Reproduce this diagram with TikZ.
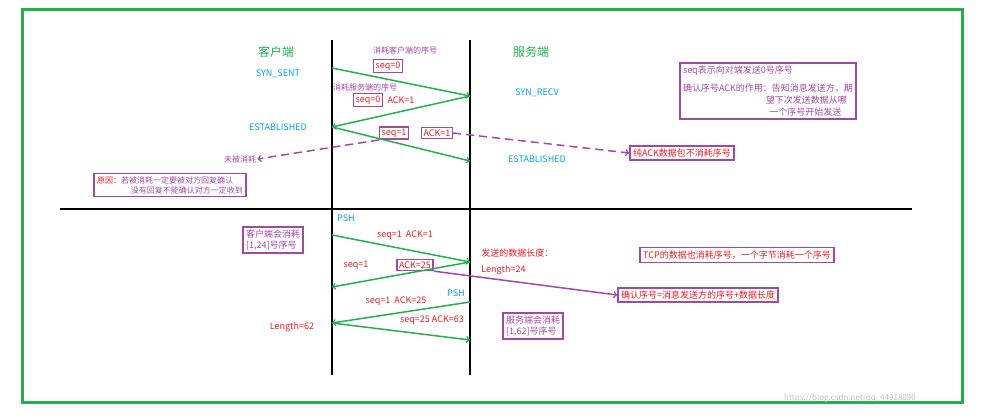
\documentclass[tikz,border=0pt]{standalone}
\usepackage{fontspec}
\setmainfont{Noto Sans CJK SC}
\usetikzlibrary{positioning}
\definecolor{tgreen}{RGB}{34,177,76}
\definecolor{tpurple}{RGB}{163,73,164}
\definecolor{tblue}{RGB}{0,162,232}
\definecolor{tred}{RGB}{237,28,36}
\tikzset{every picture/.style={line width=0.75pt}}
\tikzset{
  msg/.style={draw=tgreen,line width=1.5pt,->},
  note/.style={draw=tpurple,line width=1.5pt,->},
  tagbox/.style={draw=tpurple,line width=1.5pt,inner sep=2pt,text=tred,font=\fontsize{9}{10}\selectfont},
  redtxt/.style={text=tred,font=\fontsize{9}{10}\selectfont,inner sep=1pt},
  bluetxt/.style={text=tblue,font=\fontsize{9}{10}\selectfont,inner sep=1pt},
  purtxt/.style={text=tpurple,font=\fontsize{8}{9}\selectfont,inner sep=1pt},
  headtxt/.style={text=tgreen,font=\fontsize{12}{13}\selectfont},
  purbox/.style={draw=tpurple,line width=1.5pt,text=tpurple,align=left,font=\fontsize{9}{12}\selectfont,inner sep=3pt}
}
\begin{document}
\begin{tikzpicture}[x=1pt,y=1pt,yscale=-1,xscale=1]
\useasboundingbox (0,0) rectangle (983,420);
\fill[white] (0,0) rectangle (983,420);

%Frame
\draw[tgreen,line width=3pt] (22,10) rectangle (962,402);

%Lifelines
\coordinate (cTop) at (332,40);
\coordinate (cBot) at (332,375);
\coordinate (sTop) at (470,40);
\coordinate (sBot) at (470,375);
\coordinate (hL) at (60,209);
\coordinate (hR) at (912,209);
\draw[line width=1.5pt] (cTop) -- (cBot);
\draw[line width=1.5pt] (sTop) -- (sBot);
\draw[line width=1.5pt] (hL) -- (hR);

% Points on the lifelines
\coordinate (c1) at (332,68);
\coordinate (s1) at (470,96);
\coordinate (c2) at (332,127);
\coordinate (s2) at (470,161);
\coordinate (c3) at (332,235);
\coordinate (s3) at (470,262);
\coordinate (c4) at (332,287);
\coordinate (s4) at (470,302);
\coordinate (c5) at (332,323);
\coordinate (s5) at (470,340);

% Headings and states
\node[headtxt] (client) at (276,52) {客户端};
\node[headtxt] (server) at (531,52) {服务端};
\node[bluetxt] (synsent) at (278,74) {SYN\_SENT};
\node[bluetxt] (synrecv) at (537,93) {SYN\_RECV};
\node[bluetxt] (estc) at (278,127) {ESTABLISHED};
\node[bluetxt] (ests) at (537,159) {ESTABLISHED};

% Handshake
\node[purtxt] (useC) at (405,50) {消耗客户端的序号};
\node[tagbox] (seqA) at (388,66) {seq=0};
\node[purtxt] (useS) at (365,87) {消耗服务端的序号};
\node[tagbox] (seqB) at (368,100) {seq=0};
\node[redtxt,right=3pt of seqB] (ackB) {ACK=1};
\node[tagbox] (seqC) at (394,133) {seq=1};
\node[tagbox] (ackC) at (437,133) {ACK=1};
\draw[msg] (c1) -- (s1);
\draw[msg] (s1) -- (c2);
\draw[msg] (c2) -- (s2);

% Notes
\node[purbox,text=tpurple] (info) at (768,91) {seq表示向对端发送0号序号\\[6pt]
确认序号ACK的作用：告知消息发送方，期\\
\hspace*{9.2em}望下次发送数据从哪\\
\hspace*{9.6em}一个序号开始发送};
\node[purbox,text=tred] (pureack) at (682,153) {纯ACK数据包不消耗序号};
\node[purtxt] (notused) at (240,159) {未被消耗};
\node[purbox,font=\fontsize{8}{10}\selectfont] (reason) at (170,185) {\textcolor{tred}{原因：}若被消耗一定要被对方回复确认\\
\hspace*{4.2em}没有回复不能确认对方一定收到};
\draw[note,dashed,dash pattern=on 8pt off 5pt] (ackC.east) -- (pureack.west);
\draw[note,dashed,dash pattern=on 8pt off 5pt] (seqC.south west) -- (notused.east);

% Data transfer
\node[bluetxt] (pshA) at (346,218) {PSH};
\node[purbox,font=\fontsize{9}{11}\selectfont] (useCli) at (273,240) {客户端会消耗\\{}[1,24]号序号};
\node[redtxt] (lblA) at (405,235) {seq=1\ \ ACK=1};
\draw[msg] (c3) -- (s3);
\node[redtxt,anchor=west] (lenTitle) at (480,253) {发送的数据长度：};
\node[redtxt,anchor=west] (len24) at (480,270) {Length=24};
\node[purbox,text=tred] (tcpbox) at (737,255) {TCP的数据也消耗序号，一个字节消耗一个序号};
\node[redtxt] (seqD) at (356,265) {seq=1};
\node[tagbox] (ackD) at (415,265) {ACK=25};
\draw[msg] (s3) -- (c4);
\node[purbox,text=tred] (ackrule) at (698,295) {确认序号=消息发送方的序号+数据长度};
\draw[note] (ackD.south east) -- (ackrule.west);
\node[bluetxt] (pshB) at (456,293) {PSH};
\node[redtxt] (lblE) at (396,301) {seq=1\ \ ACK=25};
\draw[msg] (s4) -- (c5);
\node[redtxt] (len62) at (292,327) {Length=62};
\node[redtxt] (lblF) at (432,320) {seq=25\ ACK=63};
\draw[msg] (c5) -- (s5);
\node[purbox,font=\fontsize{9}{11}\selectfont] (useSrv) at (533,326) {服务端会消耗\\{}[1,62]号序号};

% Watermark
\node[text=black!25,font=\fontsize{8}{9}\selectfont] (mark) at (850,398) {https://blog.csdn.net/qq\_44918090};
\end{tikzpicture}
\end{document}
